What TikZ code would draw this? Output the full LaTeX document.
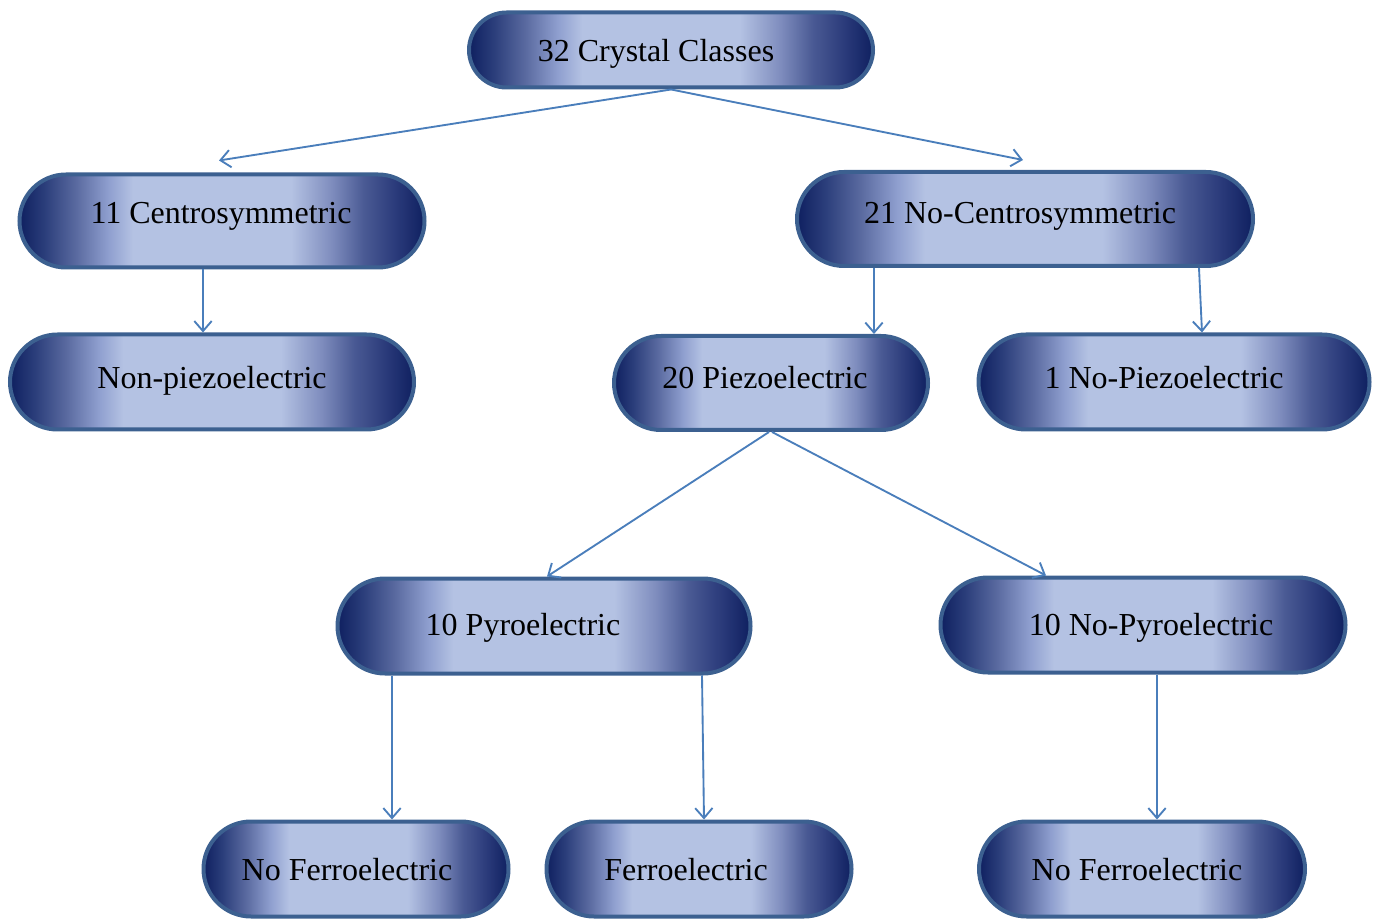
\documentclass[tikz,border=0pt]{standalone}
\usepackage{fontspec}
\setmainfont{Liberation Serif}
\usetikzlibrary{shapes.misc,arrows.meta}

\definecolor{navydark}{HTML}{0F2060}
\definecolor{navyA}{HTML}{2A3D7A}
\definecolor{navyB}{HTML}{5A6AA0}
\definecolor{navyC}{HTML}{8F9FCF}
\definecolor{lavender}{HTML}{B4C2E3}
\definecolor{navyD}{HTML}{7F8DBE}
\definecolor{navyE}{HTML}{4A5A94}
\definecolor{navyF}{HTML}{2A3A7A}
\definecolor{pillborder}{HTML}{3C6090}
\definecolor{linkblue}{HTML}{4A7EBB}

% horizontal fill: dark at both ends, light through the middle
\pgfdeclarehorizontalshading{pillshade}{100bp}{%
  color(0bp)=(navydark); color(25bp)=(navydark); color(28bp)=(navyA);
  color(32bp)=(navyB); color(36bp)=(navyC); color(39bp)=(lavender);
  color(58.5bp)=(lavender); color(63.5bp)=(navyD); color(67.5bp)=(navyE);
  color(71.5bp)=(navyF); color(75bp)=(navydark); color(100bp)=(navydark)}

\tikzset{
  pill/.style={rounded rectangle, draw=pillborder, line width=3pt,
    shading=pillshade, inner sep=0pt},
  lbl/.style={anchor=base, inner sep=0pt, font=\fontsize{24}{28}\selectfont},
  link/.style={draw=linkblue, line width=1.4pt,
    -{Straight Barb[length=7.5pt,width=13pt,line width=1.4pt]}},
}

% name, centre x, centre y, width, height
\newcommand\pillnode[5]{%
  \node[pill, minimum width=#4*0.75pt, minimum height=#5*0.75pt] (#1) at (#2,#3) {};}

\begin{document}
\begin{tikzpicture}[x=0.75pt,y=-0.75pt]
\useasboundingbox (0,0) rectangle (1381,919);

\pillnode{cc}{671}{50}{404}{75}
\pillnode{cs}{222}{221}{405}{93}
\pillnode{ncs}{1025}{219}{456}{94}
\pillnode{npz}{212}{382}{404}{95}
\pillnode{pz}{771}{383}{314}{94}
\pillnode{nopz}{1174}{382}{391}{95}
\pillnode{py}{544}{626}{413}{95}
\pillnode{npy}{1143}{625}{405}{95}
\pillnode{nfl}{356}{869}{305}{95}
\pillnode{fe}{699}{869}{305}{95}
\pillnode{nfr}{1142}{869}{326}{95}

\node[lbl] (cc-t)   at (656,62)  {32 Crystal Classes};
\node[lbl] (cs-t)   at (221,224) {11 Centrosymmetric};
\node[lbl] (ncs-t)  at (1020,224) {21 No-Centrosymmetric};
\node[lbl] (npz-t)  at (212,389) {Non-piezoelectric};
\node[lbl] (pz-t)   at (765,389) {20 Piezoelectric};
\node[lbl] (nopz-t) at (1164,389) {1 No-Piezoelectric};
\node[lbl] (py-t)   at (523,635) {10 Pyroelectric};
\node[lbl] (npy-t)  at (1151,635) {10 No-Pyroelectric};
\node[lbl] (nfl-t)  at (347,880) {No Ferroelectric};
\node[lbl] (fe-t)   at (686,880) {Ferroelectric};
\node[lbl] (nfr-t)  at (1137,880) {No Ferroelectric};

% connectors
\coordinate (cc-s) at (cc.south);
\draw[link] (cc-s) -- ([xshift=-3*0.75pt,yshift=12*0.75pt]cs.north);
\draw[link] (cc-s) -- ([xshift=-2*0.75pt,yshift=10*0.75pt]ncs.north);
\draw[link] ([xshift=-19*0.75pt]cs.south) -- ([xshift=-9*0.75pt]npz.north);
\draw[link] ([xshift=-151*0.75pt]ncs.south) -- ([xshift=103*0.75pt]pz.north);
\draw[link] ([xshift=174*0.75pt]ncs.south) -- ([xshift=28*0.75pt]nopz.north);
\draw[link] ([xshift=-2*0.75pt]pz.south) -- ([xshift=3*0.75pt]py.north);
\draw[link] ([xshift=1*0.75pt]pz.south) -- ([xshift=-97*0.75pt]npy.north);
\draw[link] ([xshift=-152*0.75pt]py.south) -- ([xshift=36*0.75pt]nfl.north);
\draw[link] ([xshift=158*0.75pt]py.south) -- ([xshift=5*0.75pt]fe.north);
\draw[link] ([xshift=14*0.75pt]npy.south) -- ([xshift=15*0.75pt]nfr.north);
\end{tikzpicture}
\end{document}
